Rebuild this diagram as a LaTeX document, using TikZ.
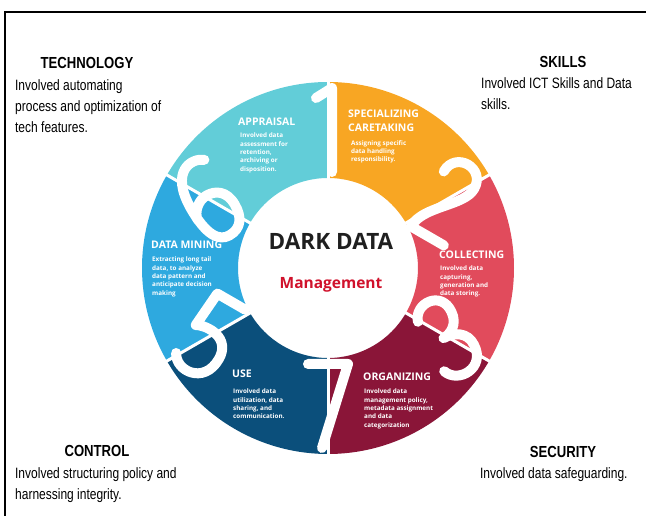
\documentclass[tikz,border=0pt]{standalone}
\usepackage{fontspec}
\setmainfont{Liberation Sans}
\newfontfamily\segfont{Open Sans}
\usepackage{xcolor}
\definecolor{ringAppraisal}{HTML}{62CDD8}
\definecolor{ringSpecial}{HTML}{F8A623}
\definecolor{ringCollect}{HTML}{E14B5C}
\definecolor{ringOrganize}{HTML}{8A1538}
\definecolor{ringUse}{HTML}{0B4F7B}
\definecolor{ringMining}{HTML}{2EA9DF}
\definecolor{darkText}{HTML}{1F1F1F}
\definecolor{mgmtRed}{HTML}{D0112B}
\usetikzlibrary{calc}
\tikzset{
    segtitle/.style={
        font=\segfont\bfseries\fontsize{10.5}{14}\selectfont,
        text=white,
        align=left,
        anchor=north west,
        inner sep=0pt
    },
    segtext/.style={
        font=\segfont\bfseries\fontsize{6.3}{8.3}\selectfont,
        text=white,
        align=left,
        anchor=north west,
        inner sep=0pt
    },
    headline/.style={
        font=\bfseries\fontsize{16}{18}\selectfont,
        xscale=0.82,
        transform shape,
        anchor=base,
        inner sep=0pt
    },
    bodytext/.style={
        font=\fontsize{15}{21}\selectfont,
        xscale=0.8,
        transform shape,
        align=left,
        anchor=north west,
        inner sep=0pt
    },
    digit/.style={
        draw=white,
        line width=10pt,
        line cap=round,
        line join=round
    }
}

\begin{document}
\begin{tikzpicture}[x=1pt,y=1pt]
    \useasboundingbox (0,0) rectangle (646,516);
    % Frame
    \draw[line width=2pt] (5,0) -- (5,504) -- (646,504);

    % Ring of six pieces
    \coordinate (c) at (328,248);
    \begin{scope}[shift={(c)}]
        \foreach \a/\col in {90/ringAppraisal, 150/ringMining, 210/ringUse,
                             270/ringOrganize, 330/ringCollect, 30/ringSpecial}
            \fill[\col] (\a:186) arc[start angle=\a, end angle=\a+60, radius=186]
                -- (\a+60:90) arc[start angle=\a+60, end angle=\a, radius=90] -- cycle;
        \foreach \a in {30,90,...,330}
            \draw[white, line width=3pt] (\a:88) -- (\a:188);

        % Step numbers cut between the pieces
        \draw[digit, shift={(90:138)}] (-12,32) -- (4,42) -- (4,-42);
        \draw[digit, shift={(30:138)}, rotate=-30]
            (-17,22) .. controls (-17,46) and (18,46) .. (18,22)
            .. controls (18,2) and (-18,-18) .. (-18,-42) -- (20,-42);
        \draw[digit, shift={(-30:138)}, rotate=30]
            (-18,28) .. controls (-12,46) and (18,44) .. (16,20)
            .. controls (15,6) and (4,1) .. (-4,1)
            .. controls (8,1) and (20,-6) .. (19,-20)
            .. controls (18,-46) and (-14,-46) .. (-20,-28);
        \draw[digit, shift={(-90:138)}] (-20,42) -- (20,42) -- (-6,-42);
        \draw[digit, shift={(210:138)}, rotate=-30]
            (18,42) -- (-14,42) -- (-17,4)
            .. controls (-6,10) and (20,10) .. (20,-14)
            .. controls (20,-44) and (-12,-46) .. (-20,-30);
        \draw[digit, shift={(150:138)}, rotate=30]
            (16,36) .. controls (6,44) and (-20,44) .. (-20,0)
            .. controls (-20,-30) and (-12,-42) .. (0,-42)
            .. controls (14,-42) and (20,-32) .. (20,-18)
            .. controls (20,-2) and (10,4) .. (0,4)
            .. controls (-10,4) and (-18,-4) .. (-20,-12);
    \end{scope}

    % Piece labels
    \node[segtitle] (appraisalT) at (238,398) {APPRAISAL};
    \node[segtext] (appraisalD) at (240,383)
        {Involved data\\assessment for\\retention,\\archiving or\\disposition.};
    \node[segtitle] (specialT) at (348,406) {SPECIALIZING\\CARETAKING};
    \node[segtext] (specialD) at (351,376)
        {Assigning specific\\data handling\\responsibility.};
    \node[segtitle] (collectT) at (439,265) {COLLECTING};
    \node[segtext] (collectD) at (440,250)
        {Involved data\\capturing,\\generation and\\data storing.};
    \node[segtitle] (organizeT) at (363,143) {ORGANIZING};
    \node[segtext] (organizeD) at (364,127)
        {Involved data\\management policy,\\metadata assignment\\and data\\categorization};
    \node[segtitle] (useT) at (232,146) {USE};
    \node[segtext] (useD) at (233,127)
        {Involved data\\utilization, data\\sharing, and\\communication.};
    \node[segtitle] (miningT) at (151,275) {DATA MINING};
    \node[segtext] (miningD) at (152,259)
        {Extracting long tail\\data, to analyze\\data pattern and\\anticipate decision\\making};

    % Centre
    \node[font=\segfont\bfseries\fontsize{22.5}{24}\selectfont, text=darkText] (dark) at (331,275) {DARK DATA};
    \node[font=\segfont\bfseries\fontsize{15.5}{16}\selectfont, text=mgmtRed] (mgmt) at (331,231) {Management};

    % Corner notes
    \node[headline] (techH) at (87,447) {TECHNOLOGY};
    \node[bodytext] (techB) at (15,437)
        {Involved automating\\process and optimization of\\tech features.};
    \node[headline] (skillH) at (563,448) {SKILLS};
    \node[bodytext] (skillB) at (481,439)
        {Involved ICT Skills and Data\\skills.};
    \node[headline] (controlH) at (97,59) {CONTROL};
    \node[bodytext] (controlB) at (15,49)
        {Involved structuring policy and\\harnessing integrity.};
    \node[headline] (secureH) at (563,58) {SECURITY};
    \node[bodytext] (secureB) at (480,49)
        {Involved data safeguarding.};
\end{tikzpicture}
\end{document}
